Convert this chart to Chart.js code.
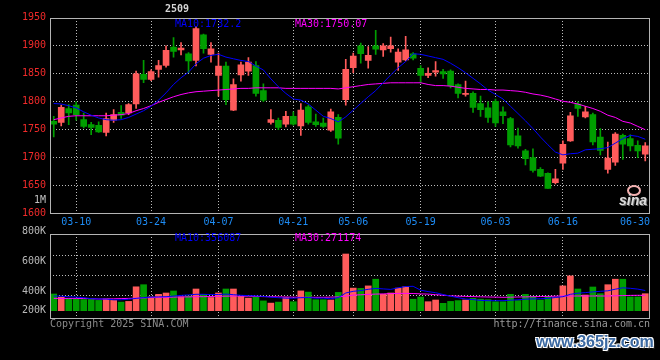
<!DOCTYPE html>
<html>
<head>
<meta charset="utf-8">
<script src="https://cdn.jsdelivr.net/npm/chart.js@4.4.1/dist/chart.umd.min.js"></script>
<style>
html,body{margin:0;padding:0;background:#000;width:660px;height:360px;overflow:hidden;}
#wrap{position:relative;width:660px;height:360px;background:#000;}
#p{position:absolute;left:0;top:0;}
#v{position:absolute;left:0;top:222px;}
#wm{position:absolute;left:536px;top:333px;font:bold 16px "Liberation Sans",Arial,sans-serif;color:#3b69a2;
  text-shadow:1px 1px 0 #fff,-1px -1px 0 #fff,1px -1px 0 #fff,-1px 1px 0 #fff,2px 2px 1px #222;white-space:nowrap;}
#eye{position:absolute;left:627px;top:185px;width:10px;height:7px;border:2px solid #f2b0b0;border-radius:50%;}
#sina{position:absolute;left:619px;top:192px;font:italic bold 14px "Liberation Sans",Arial,sans-serif;color:#dcdcdc;
  text-shadow:1px 1px 0 #666;white-space:nowrap;}
</style>
</head>
<body>
<div id="wrap">
<canvas id="p" width="660" height="228"></canvas>
<canvas id="v" width="660" height="138"></canvas>
<div id="eye"></div>
<div id="sina">sina</div>
<div id="wm">www.365jz.com</div>
</div>
<script>
// ---------- data ----------
const dates = ['03-05','03-06','03-07','03-10','03-11','03-12','03-13','03-14','03-17','03-18','03-19','03-20','03-21','03-24','03-25','03-26','03-27','03-28','03-31',
'04-01','04-02','04-03','04-07','04-08','04-09','04-10','04-11','04-14','04-15','04-16','04-17','04-18','04-21','04-22','04-23','04-24','04-25','04-28','04-29','04-30',
'05-06','05-07','05-08','05-09','05-12','05-13','05-14','05-15','05-16','05-19','05-20','05-21','05-22','05-23','05-26','05-27','05-28','05-29','05-30',
'06-03','06-04','06-05','06-06','06-09','06-10','06-11','06-12','06-13','06-16','06-17','06-18','06-19','06-20','06-23','06-24','06-25','06-26','06-27','06-30',
'07-01'];
const openP = [1765,1763,1788,1794,1768,1759,1758,1745,1767,1781,
1780,1796,1849,1840,1858,1865,1898,1893,1886,1874,
1920,1885,1847,1864,1785,1848,1855,1865,1820,1763,
1767,1760,1774,1757,1791,1764,1762,1749,1772,1804,
1861,1900,1874,1900,1893,1895,1871,1875,1886,1860,
1847,1853,1854,1855,1831,1813,1815,1797,1789,1801,
1782,1770,1739,1712,1700,1679,1672,1655,1690,1730,
1796,1773,1777,1737,1679,1692,1740,1734,1722,1706];
const closeP = [1760,1790,1780,1777,1756,1754,1746,1770,1777,1776,
1795,1850,1840,1854,1865,1892,1890,1896,1873,1931,
1895,1895,1864,1804,1831,1866,1871,1815,1803,1768,
1754,1774,1760,1785,1763,1759,1756,1782,1735,1858,
1882,1886,1883,1894,1900,1900,1889,1893,1878,1847,
1851,1856,1850,1829,1815,1815,1790,1786,1772,1762,
1775,1723,1721,1698,1677,1667,1645,1662,1724,1775,
1788,1782,1728,1713,1699,1742,1724,1721,1712,1721];
const highP = [1774,1794,1795,1800,1780,1763,1764,1780,1786,1793,
1797,1855,1874,1857,1874,1900,1915,1906,1888,1935,
1921,1906,1887,1871,1841,1871,1879,1872,1832,1786,
1771,1783,1782,1797,1794,1778,1771,1787,1777,1876,
1887,1905,1899,1928,1904,1916,1895,1917,1888,1865,
1861,1872,1858,1857,1832,1837,1818,1810,1800,1805,
1791,1772,1753,1715,1716,1682,1673,1679,1730,1781,
1800,1792,1780,1752,1728,1745,1742,1741,1730,1727];
const lowP = [1737,1757,1759,1767,1753,1741,1745,1739,1763,1770,
1777,1788,1834,1838,1844,1862,1880,1884,1852,1864,
1887,1871,1810,1795,1784,1837,1847,1810,1800,1760,
1750,1755,1758,1740,1760,1756,1754,1747,1724,1794,
1852,1869,1860,1885,1881,1889,1856,1873,1875,1834,
1843,1846,1842,1825,1807,1810,1781,1774,1763,1756,
1761,1719,1717,1687,1674,1666,1645,1653,1679,1729,
1774,1771,1723,1705,1672,1686,1697,1712,1700,1694];
const ma10 = [1797,1796,1793,1789,1782,1776,1771,1768,1767,1768,1772,1778,1784,1792,1803,
1816,1831,1843,1853,1868,1878,1883,1885,1880,1877,1874,1872,1864,1857,1841,
1827,1815,1805,1803,1796,1785,1774,1770,1764,1773,1785,1797,1809,1820,1834,
1848,1861,1872,1886,1885,1882,1879,1876,1869,1861,1852,1842,1832,1821,1813,
1805,1792,1779,1766,1752,1737,1723,1710,1705,1707,1708,1714,1715,1716,1718,
1726,1734,1740,1738,1733];
const ma30 = [1768,1771,1774,1775,1775,1775,1775,1775,1776,1777,1779,1784,1788,1793,1799,
1804,1809,1813,1816,1818,1819,1820,1821,1822,1823,1824,1824,1825,1825,1825,
1825,1824,1824,1824,1824,1824,1824,1824,1823,1825,1827,1829,1831,1832,1833,
1834,1834,1834,1834,1834,1831,1829,1829,1828,1826,1824,1823,1822,1822,1821,
1821,1820,1819,1817,1814,1812,1809,1805,1801,1799,1796,1792,1788,1783,1776,
1772,1765,1762,1756,1750];
const volume = [210000,178000,166000,158000,155000,155000,146000,162000,146000,129000,
136000,282000,303000,181000,207000,220000,240000,181000,190000,260000,
207000,175000,220000,260000,260000,186000,169000,178000,141000,119000,
129000,175000,133000,241000,229000,153000,153000,150000,226000,610000,
269000,266000,291000,358000,207000,220000,269000,283000,158000,180000,
133000,150000,117000,136000,144000,150000,166000,158000,153000,133000,
133000,207000,144000,207000,186000,150000,186000,175000,291000,391000,
260000,200000,280000,213000,303000,358000,358000,181000,181000,213000];
const volMa10 = [190000,188000,183000,179000,173000,163000,160000,160000,152000,152000,
158000,166000,174000,179000,181000,183000,189000,196000,201000,207000,
207000,204000,205000,209000,203000,197000,194000,191000,186000,178000,
173000,168000,168000,173000,175000,168000,169000,162000,174000,220000,
237000,244000,257000,266000,261000,256000,272000,285000,287000,248000,
234000,223000,205000,188000,173000,160000,154000,146000,143000,143000,
143000,148000,152000,158000,161000,163000,166000,175000,183000,207000,
218000,224000,231000,237000,242000,258000,272000,267000,259000,245000];
const volMa30 = [166000,166000,166000,166000,165000,163000,160000,160000,162000,164000,
166000,168000,171000,174000,176000,177000,179000,181000,181000,183000,
183000,185000,187000,188000,190000,189000,188000,186000,184000,183000,
181000,180000,178000,177000,177000,177000,177000,179000,181000,188000,
199000,202000,206000,209000,211000,214000,216000,216000,215000,211000,
209000,203000,198000,191000,188000,186000,184000,182000,180000,179000,
177000,178000,180000,181000,183000,185000,186000,188000,190000,190000,
190000,190000,190000,190000,190000,192000,194000,196000,197000,197000];
const tickDates = ['03-10','03-24','04-07','04-21','05-06','05-19','06-03','06-16','06-30'];
const priceTicks = [1600,1650,1700,1750,1800,1850,1900,1950];
const volTicks = [200000,400000,600000];
const volTickLabels = ['800K','600K','400K','200K'];
const priceMa10Text = 'MA10:1732.2';
const priceMa30Text = 'MA30:1750.07';
const volMa10Text = 'MA10:356087';
const volMa30Text = 'MA30:271174';

// ---------- styling ----------
const MONO = '"DejaVu Sans Mono","Liberation Mono",monospace';
Chart.defaults.font.family = MONO;
Chart.defaults.font.size = 10;
const UP = '#ff5b5b', DOWN = '#009e00';
const GRID = '#bdbdbd', FRAME = '#b4b4b4', DATE_C = '#1e8cf5', PRICE_C = '#f02a2a', VOL_C = '#b8b8b8';
const candleColors = openP.map((o, i) => closeP[i] >= o ? UP : DOWN);
const lastTick = tickDates[tickDates.length - 1];
const gridIdx = new Set(tickDates.filter(d => d !== lastTick).map(d => dates.indexOf(d)));

function framePlugin(id) {
  return { id, afterDatasetsDraw(chart) {
    const a = chart.chartArea, c = chart.ctx;
    c.save(); c.strokeStyle = FRAME; c.lineWidth = 1; c.setLineDash([]);
    const l = Math.round(a.left), t = Math.round(a.top), r = Math.round(a.right), b = Math.floor(a.bottom);
    c.strokeRect(l + 0.5, t + 0.5, r - l, b - t);
    c.restore();
  }};
}

function xScale(showLabels) {
  return {
    type: 'category', offset: true,
    grid: { offset: false, drawTicks: false, lineWidth: 1,
      color: ctx => gridIdx.has(ctx.index) ? GRID : 'rgba(0,0,0,0)' },
    border: { display: false, dash: [1, 2] },
    ticks: { display: showLabels, autoSkip: false, maxRotation: 0, minRotation: 0, padding: 2.5, color: DATE_C,
      callback: (v, i) => (tickDates.includes(dates[i]) && dates[i] !== lastTick) ? dates[i] : '' },
    afterFit: s => { s.height = showLabels ? 14.5 : 0; }
  };
}

// ---------- price chart ----------
const priceText = {
  id: 'priceText',
  afterDraw(chart) {
    const c = chart.ctx, a = chart.chartArea;
    c.save();
    c.font = '10px ' + MONO; c.textBaseline = 'middle';
    c.textAlign = 'left';
    c.fillStyle = '#0000ff'; c.fillText(priceMa10Text, 175, 24);
    c.fillStyle = '#ff00ff'; c.fillText(priceMa30Text, 295, 24);
    c.textAlign = 'right';
    c.fillStyle = '#c0c0c0'; c.fillText('1M', 46, 200);
    c.fillStyle = DATE_C; c.fillText(lastTick, a.right + 1, 222);
    c.textAlign = 'left'; c.font = 'bold 10px ' + MONO; c.fillStyle = '#d4d4d4';
    c.fillText('2509', 165, 9.5);
    c.restore();
  }
};

new Chart(document.getElementById('p'), {
  type: 'bar',
  data: {
    labels: dates,
    datasets: [
      { type: 'line', data: ma10, borderColor: '#0000ff', borderWidth: 1, pointRadius: 0, tension: 0, order: 0 },
      { type: 'line', data: ma30, borderColor: '#ff00ff', borderWidth: 1, pointRadius: 0, tension: 0, order: 1 },
      { data: openP.map((o, i) => [o, closeP[i]]), backgroundColor: candleColors, barThickness: 6,
        grouped: false, borderWidth: 0, order: 2 },
      { data: lowP.map((l, i) => [l, highP[i]]), backgroundColor: candleColors, barThickness: 1,
        grouped: false, borderWidth: 0, order: 3 }
    ]
  },
  options: {
    responsive: false, animation: false, devicePixelRatio: 1,
    layout: { padding: { left: 0, right: 11, top: 18, bottom: 0 } },
    plugins: { legend: { display: false }, tooltip: { enabled: false } },
    scales: {
      x: xScale(true),
      y: {
        min: 1600, max: 1950, position: 'left',
        afterBuildTicks: s => { s.ticks = priceTicks.map(v => ({ value: v })); },
        grid: { drawTicks: false, lineWidth: 1,
          color: ctx => (ctx.tick && ctx.tick.value > 1600 && ctx.tick.value < 1950) ? GRID : 'rgba(0,0,0,0)' },
        border: { display: false, dash: [1, 2] },
        ticks: { color: PRICE_C, padding: 4, labelOffset: -0.5, callback: v => String(v) },
        afterFit: s => { s.width = 50; }
      }
    }
  },
  plugins: [framePlugin('pf'), priceText]
});

// ---------- volume chart ----------
const volText = {
  id: 'volText',
  afterDraw(chart) {
    const c = chart.ctx, a = chart.chartArea;
    c.save();
    c.font = '10px ' + MONO; c.textBaseline = 'middle';
    c.textAlign = 'right'; c.fillStyle = VOL_C;
    const dy = [-2.8, 27, 57, 76.3];
    volTickLabels.forEach((t, k) => c.fillText(t, 46, a.top + dy[k]));
    c.textAlign = 'left';
    c.fillStyle = '#0000ff'; c.fillText(volMa10Text, 175, a.top + 4.5);
    c.fillStyle = '#ff00ff'; c.fillText(volMa30Text, 295, a.top + 4.5);
    c.fillStyle = '#8a8a8a'; c.fillText('Copyright 2025 SINA.COM', 50, a.bottom + 6.2);
    c.textAlign = 'right'; c.fillStyle = '#9a9a9a';
    c.fillText('http://finance.sina.com.cn', a.right + 1, a.bottom + 6.2);
    c.restore();
  }
};

new Chart(document.getElementById('v'), {
  type: 'bar',
  data: {
    labels: dates,
    datasets: [
      { type: 'line', data: volMa10, borderColor: '#0000ff', borderWidth: 1, pointRadius: 0, tension: 0, order: 0 },
      { type: 'line', data: volMa30, borderColor: '#ff00ff', borderWidth: 1, pointRadius: 0, tension: 0, order: 1 },
      { data: volume, backgroundColor: candleColors, barThickness: 6, base: 43000, borderWidth: 0, order: 2 }
    ]
  },
  options: {
    responsive: false, animation: false, devicePixelRatio: 1,
    layout: { padding: { left: 0, right: 11, top: 12, bottom: 42 } },
    plugins: { legend: { display: false }, tooltip: { enabled: false } },
    scales: {
      x: xScale(false),
      y: {
        min: -30000, max: 810000, position: 'left',
        afterBuildTicks: s => { s.ticks = volTicks.map(v => ({ value: v })); },
        grid: { drawTicks: false, lineWidth: 1, color: GRID },
        border: { display: false, dash: [1, 2] },
        ticks: { display: false },
        afterFit: s => { s.width = 50; }
      }
    }
  },
  plugins: [framePlugin('vf'), volText]
});
</script>
</body>
</html>
